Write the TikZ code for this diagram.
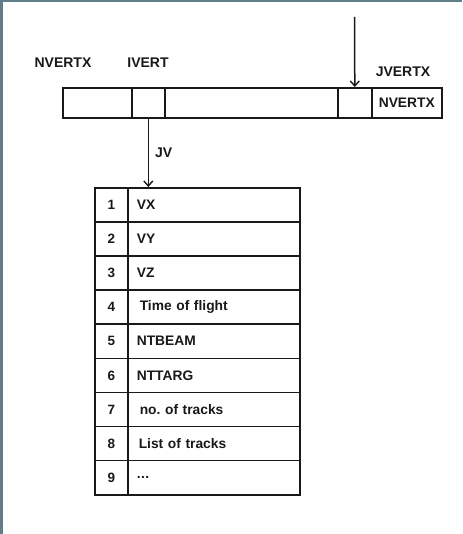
\documentclass[tikz,border=0pt]{standalone}
\usepackage{fontspec}
\setmainfont{Liberation Sans}
\usetikzlibrary{arrows.meta}
\definecolor{frame}{RGB}{96,126,136}
\definecolor{ink}{RGB}{25,25,25}
\frenchspacing
\begin{document}
\begin{tikzpicture}[x=1pt,y=-1pt,
  cell/.style={draw=ink, line width=1.6pt, minimum height=30pt, inner sep=0pt, anchor=north west, text=ink, font=\bfseries\fontsize{13.8}{15}\selectfont},
  numcell/.style={draw=ink, line width=1.6pt, minimum width=33pt, minimum height=34.1pt, inner sep=0pt, anchor=north west, text=ink, font=\bfseries\fontsize{13.5}{15}\selectfont},
  txtcell/.style={draw=ink, line width=1.6pt, minimum width=172pt, minimum height=34.1pt, inner xsep=9pt, inner ysep=0pt, anchor=north west, align=left, text width=154pt, text=ink, font=\bfseries\fontsize{13.8}{15}\selectfont},
  lbl/.style={text=ink, inner sep=0pt, font=\bfseries\fontsize{14}{16}\selectfont},
  ptr/.style={draw=ink, line width=1.5pt, -{Straight Barb[length=5pt,width=9pt,line width=1.4pt]}}]
\useasboundingbox (0,0) rectangle (462,534);
\fill[white] (0,0) rectangle (462,534);
\fill[frame] (0,0) rectangle (3,534);
\fill[frame] (0,0) rectangle (462,2);
% top bar
\node[cell, minimum width=69pt] (b1) at (62,87) {};
\node[cell, minimum width=33pt] (b2) at (131,87) {};
\node[cell, minimum width=173pt] (b3) at (164,87) {};
\node[cell, minimum width=34pt] (b4) at (337,87) {};
\node[cell, minimum width=70pt] (b5) at (371,87) {\raisebox{-2pt}{NVERTX}};
% labels
\node[lbl] (lnv) at (63,63) {NVERTX};
\node[lbl] (liv) at (148,63) {IVERT};
\node[lbl] (ljv) at (403,72) {JVERTX};
% table
\foreach \i/\t in {1/VX,2/VY,3/VZ,4/{\hspace{3pt}Time of flight},5/NTBEAM,6/NTTARG,7/{\hspace{3pt}no. of tracks},8/{\hspace{2pt}List of tracks},9/{.\kern0.5pt.\kern0.5pt.}}{
  \node[numcell] (n\i) at (94,{187+34.1*(\i-1)}) {\i};
  \node[txtcell] (t\i) at (127,{187+34.1*(\i-1)}) {\t};
}
% pointers
\coordinate (top) at (354.5,17);
\draw[ptr] (top) -- (b4.north);
\draw[ptr] (b2.south) -- (b2.south |- n1.north);
\node[lbl, anchor=west] (ljvv) at (155,153) {JV};
\end{tikzpicture}
\end{document}
